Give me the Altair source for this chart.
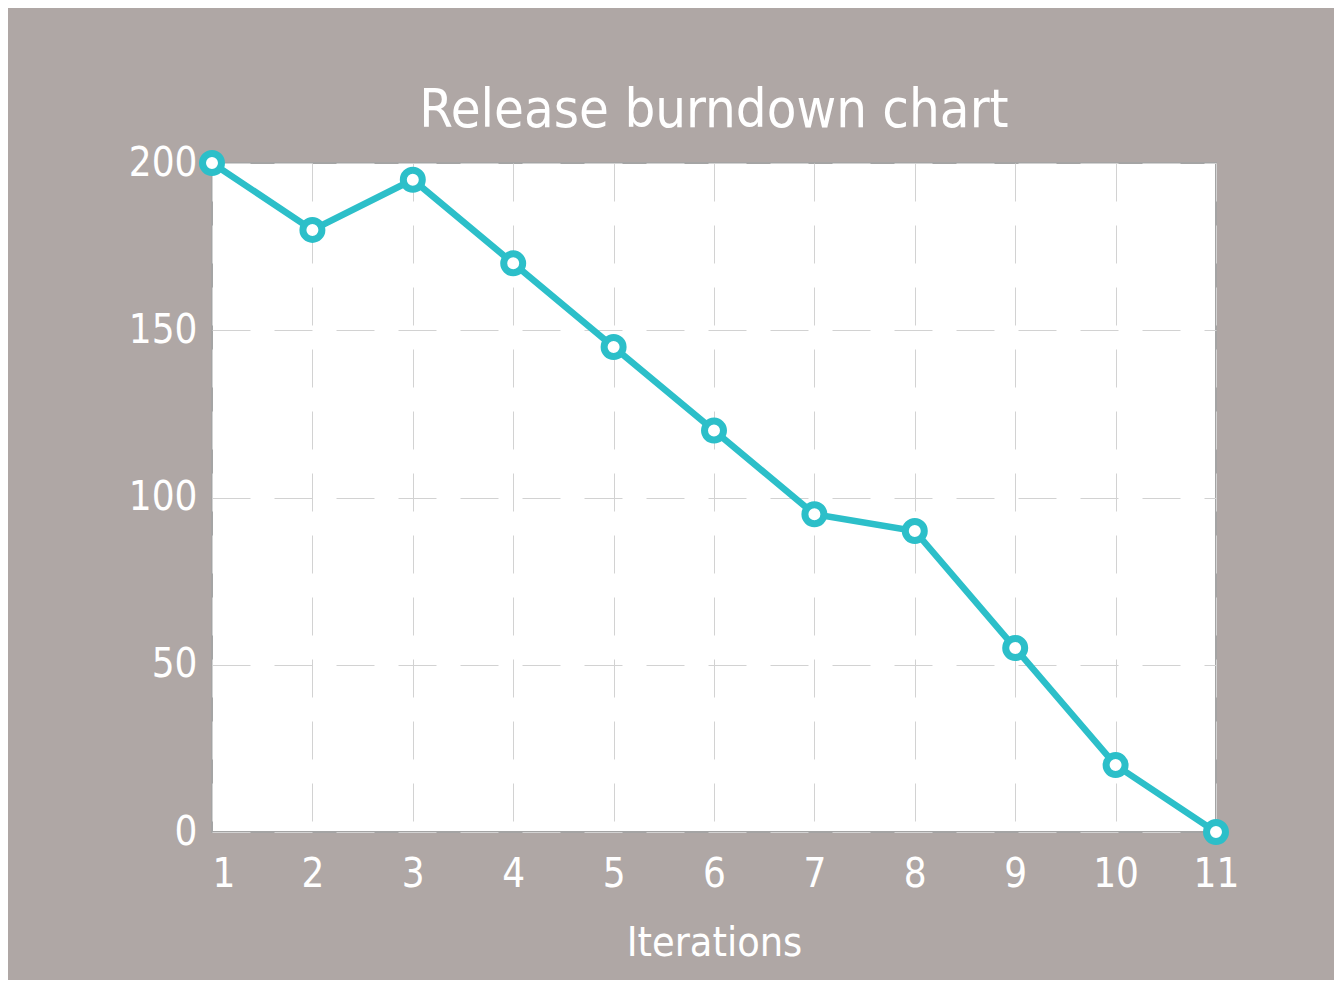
import altair as alt
import pandas as pd

iterations = [1, 2, 3, 4, 5, 6, 7, 8, 9, 10, 11]
remaining = [200, 180, 195, 170, 145, 120, 95, 90, 55, 20, 0]

df = pd.DataFrame({"Iteration": iterations, "Remaining": remaining})

FONT = "DejaVu Sans Condensed"
TEAL = "#2cbfc9"
BG = "#afa7a5"

x = alt.X(
    "Iteration:Q",
    scale=alt.Scale(domain=[1, 11], nice=False, zero=False),
    axis=alt.Axis(
        title="Iterations",
        values=iterations,
        format="d",
        ticks=False,
        domain=False,
        labelPadding=22,
        labelFontSize=40,
        labelColor="white",
        labelFont=FONT,
        labelAlign=alt.expr("datum.value == 1 ? 'left' : 'center'"),
        titleFontSize=41,
        titleFont=FONT,
        titleFontWeight="normal",
        titleColor="white",
        titlePadding=29,
        grid=True,
        gridColor="#d2d2d2",
        gridDash=[38, 24],
        gridWidth=1,
    ),
)
y = alt.Y(
    "Remaining:Q",
    scale=alt.Scale(domain=[0, 200], nice=False),
    axis=alt.Axis(
        title=None,
        values=[0, 50, 100, 150, 200],
        ticks=False,
        domain=False,
        labelPadding=15,
        labelFontSize=40,
        labelColor="white",
        labelFont=FONT,
        grid=True,
        gridColor="#d2d2d2",
        gridDash=[38, 24],
        gridWidth=1,
    ),
)

line = alt.Chart(df).mark_line(color=TEAL, strokeWidth=6.5).encode(x=x, y=y)
pts = alt.Chart(df).mark_point(
    shape="circle", filled=False, fill="white", fillOpacity=1,
    stroke=TEAL, strokeWidth=7, size=360, opacity=1
).encode(x=x, y=y)

chart = (
    alt.layer(line, pts)
    .properties(
        width=1004,
        height=669,
        title=alt.TitleParams(
            "Release burndown chart",
            fontSize=54,
            font=FONT,
            fontWeight="normal",
            color="white",
            anchor="middle",
            baseline="alphabetic",
            offset=-41,
        ),
        background=BG,
        padding={"left": 204, "top": 155, "right": 118, "bottom": 148},
        autosize=alt.AutoSizeParams(type="none"),
    )
    .configure_view(fill="white", stroke="#a4a4a4", strokeWidth=2)
)

chart.save("out.html", embed_options={"renderer": "svg", "actions": False})
